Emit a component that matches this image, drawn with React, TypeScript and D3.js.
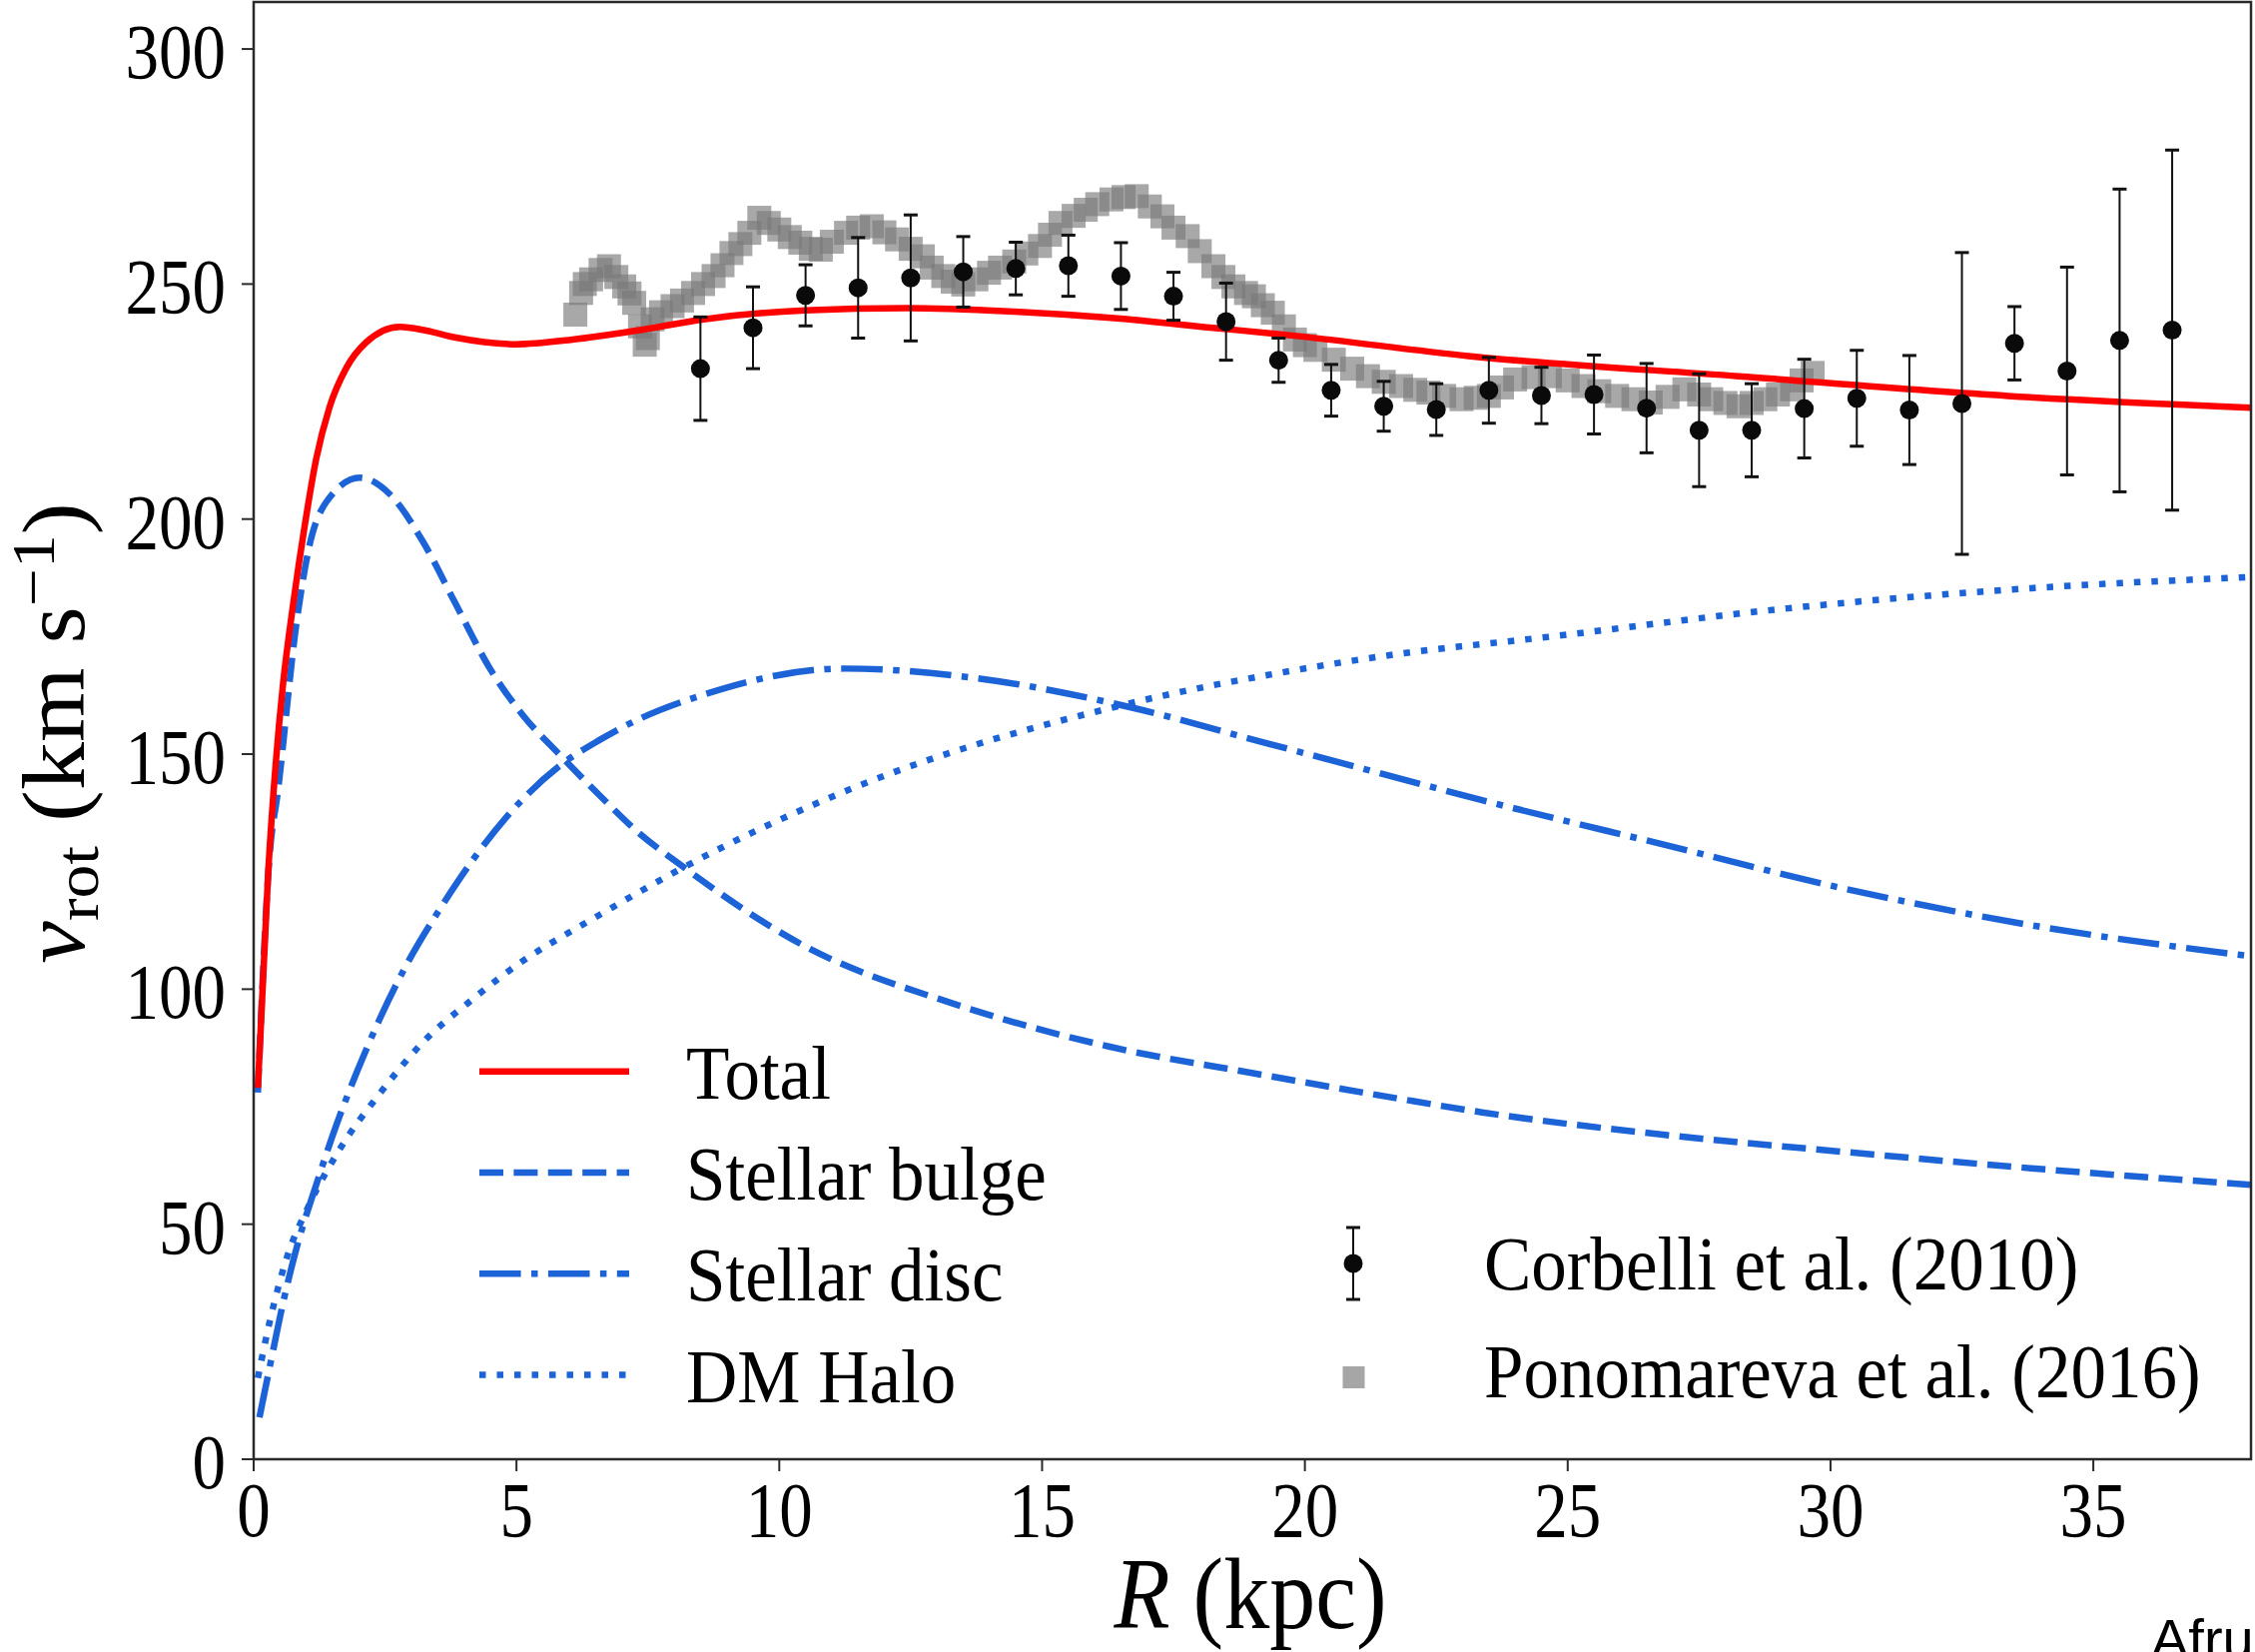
import React from "react";
import * as d3 from "d3";

const W = 2258;
const H = 1654;

// model curves, [R (kpc), v_rot (km/s)]
const totalCurve: [number, number][] = [
  [0.08, 79], [0.28, 125.6], [0.42, 148], [0.56, 165], [0.75, 181.8], [0.97, 198.5],
  [1.19, 212.8], [1.44, 223.7], [1.76, 232.1], [2.14, 237.6], [2.78, 240.9], [3.28, 240.1],
  [3.85, 238.6], [4.99, 237.2], [6.07, 238.2], [7.28, 240.1], [8.56, 242.5], [10.49, 244.4],
  [12.43, 244.9], [14.37, 244.2], [16.31, 242.8], [18.25, 240.7], [19.89, 238.9],
  [23.11, 234.7], [28.25, 230.4], [33.38, 226.2], [38, 223.7],
];

const bulgeCurve: [number, number][] = [
  [0.08, 78], [0.3, 128], [0.46, 142], [0.81, 177.5], [1.06, 194.3], [1.38, 203.6],
  [2.02, 208.8], [2.59, 205.3], [3.22, 195.2], [3.85, 181.8], [4.49, 168.3], [5.12, 158.3],
  [5.82, 149.9], [6.71, 139.8], [7.34, 133.1], [8.03, 127.2], [10.46, 109.3], [13.37, 96.7],
  [16.27, 87.8], [19.18, 81.8], [21.79, 76.7], [23.37, 73.8], [26.85, 69.0], [30.34, 65.3],
  [33.82, 61.9], [38, 58.4],
];

const discCurve: [number, number][] = [
  [0.11, 8.9], [0.34, 21.5], [0.56, 33.3], [0.84, 45.9], [1.19, 58.4], [1.57, 71], [1.95, 82],
  [2.4, 93.7], [2.9, 105], [3.54, 117], [4.17, 127.5], [4.8, 136.5], [5.82, 147.5],
  [6.58, 153], [7.34, 157.5], [8.52, 162.5], [11.23, 168.2], [13.85, 166], [16.67, 160],
  [19.18, 152.6], [21.71, 145.1], [23.37, 140.2], [26.85, 130.7], [30.34, 121.2],
  [33.82, 113.6], [38, 107],
];

const haloCurve: [number, number][] = [
  [0.08, 17.3], [0.3, 29], [0.62, 42.5], [1.06, 54.2], [1.64, 66], [2.4, 77.8], [3.22, 88.7],
  [4.17, 97.9], [5.12, 106], [6.07, 112.5], [6.58, 115.8], [7.34, 120.7], [8.03, 125],
  [11.43, 142.9], [16.67, 160.8], [19.89, 168], [21.71, 171.2], [24.53, 174.8], [29.18, 181],
  [33.82, 185.3], [37.89, 187.6],
];

// Corbelli et al. (2010)
const corbelliR = [8.5, 9.5, 10.5, 11.5, 12.5, 13.5, 14.5, 15.5, 16.5, 17.5, 18.5, 19.5, 20.5, 21.5,
  22.5, 23.5, 24.5, 25.5, 26.5, 27.5, 28.5, 29.5, 30.5, 31.5, 32.5, 33.5, 34.5, 35.5, 36.5];
const corbelliV = [232.0, 240.7, 247.6, 249.2, 251.3, 252.6, 253.3, 253.9, 251.7, 247.4, 242.0, 233.8,
  227.4, 224.0, 223.3, 227.4, 226.3, 226.5, 223.6, 218.9, 218.9, 223.5, 225.7, 223.2, 224.6, 237.4,
  231.5, 238.0, 240.2];
const corbelliErr = [11, 8.7, 6.5, 10.7, 13.4, 7.5, 5.6, 6.5, 7.1, 5.1, 8.2, 4.7, 5.5, 5.3, 5.5, 7, 6,
  8.4, 9.5, 12, 9.9, 10.5, 10.2, 11.6, 32.1, 7.8, 22.1, 32.2, 38.3];

// Ponomareva et al. (2016)
const ponoR = [6.12, 6.23, 6.3, 6.42, 6.6, 6.76, 6.9, 7.05, 7.15, 7.24, 7.35, 7.44, 7.5, 7.59, 7.75,
  7.97, 8.15, 8.36, 8.55, 8.75, 8.92, 9.09, 9.26, 9.43, 9.62, 9.8, 10.0, 10.2, 10.4, 10.6, 10.79,
  11.0, 11.27, 11.5, 11.76, 12.0, 12.24, 12.5, 12.73, 12.9, 13.12, 13.3, 13.5, 13.75, 13.99, 14.2,
  14.47, 14.7, 14.96, 15.15, 15.35, 15.6, 15.83, 16.05, 16.32, 16.55, 16.8, 17.05, 17.29, 17.5,
  17.77, 18.0, 18.26, 18.45, 18.64, 18.88, 19.03, 19.2, 19.39, 19.6, 19.81, 20.0, 20.2, 20.55,
  20.9, 21.2, 21.5, 21.83, 22.1, 22.35, 22.65, 22.98, 23.25, 23.5, 23.75, 24.0, 24.35, 24.66,
  25.0, 25.3, 25.6, 25.94, 26.25, 26.58, 26.9, 27.22, 27.5, 27.73, 28.0, 28.25, 28.5, 28.76,
  29.0, 29.27, 29.45, 29.66];
const ponoV = [243.5, 248.1, 250, 251, 253, 253.8, 251.5, 249.5, 248, 246, 241, 237.1, 238.5, 242.5,
  244, 245.3, 246.5, 248.1, 250, 251.7, 254, 256.6, 258.5, 260.9, 264.1, 263, 261.6, 260, 258.8,
  257.5, 257.3, 259, 260.9, 262, 262.3, 261, 259.5, 257.5, 255.9, 253.5, 251.7, 250.5, 249.9,
  251, 252.4, 253.5, 254.8, 256.5, 258.1, 260.5, 263, 264.5, 265.8, 267, 268, 268.5, 268.7, 266.5,
  264.4, 262, 260.2, 257, 253.8, 251.5, 249.5, 248.1, 247.4, 245.5, 243.9, 241, 238.2, 237, 236,
  233.9, 232, 230.4, 229.2, 228.3, 227.5, 226.9, 226.2, 225.5, 225.8, 226.2, 228, 229.7, 230.2,
  230.4, 229.5, 228.3, 227.2, 226.2, 225.5, 224.8, 226, 227.6, 226.5, 225.5, 224.7, 224.0, 224.7,
  225.5, 226.5, 227.6, 229.5, 231.1];

const xTicks = [0, 5, 10, 15, 20, 25, 30, 35];
const yTicks = [0, 50, 100, 150, 200, 250, 300];

const modelLegend = ["Total", "Stellar bulge", "Stellar disc", "DM Halo"];

const BLUE = "#1c63d8";
const LW = 6.5;
const SERIF = "'Liberation Serif', 'DejaVu Serif', serif";

export default function App() {
  const x = d3.scaleLinear().domain([0, 38]).range([254, 2254]);
  const y = d3.scaleLinear().domain([0, 310]).range([1461, 2]);

  const line = d3
    .line<[number, number]>()
    .x((d) => x(d[0]))
    .y((d) => y(d[1]))
    .curve(d3.curveMonotoneX);

  const styles = [
    { stroke: "#ff0000", dash: undefined as string | undefined },
    { stroke: BLUE, dash: "24 10.4" },
    { stroke: BLUE, dash: "41.6 10.4 6.5 10.4" },
    { stroke: BLUE, dash: "6.5 11" },
  ];
  const curves = [totalCurve, bulgeCurve, discCurve, haloCurve];

  const [x0, x1] = x.range();
  const [y0, y1] = y.range();
  const sq = 24;

  return (
    <div style={{ position: "absolute", left: 0, top: 0, width: W, height: H, overflow: "hidden" }}>
      <svg width={W} height={H} style={{ display: "block", background: "#fff" }}>
        <defs>
          <clipPath id="plotArea">
            <rect x={x0} y={y1} width={x1 - x0} height={y0 - y1} />
          </clipPath>
        </defs>

        <g clipPath="url(#plotArea)">
          {ponoR.map((r, i) => (
            <rect
              key={"p" + i}
              x={x(r) - sq / 2}
              y={y(ponoV[i]) - sq / 2}
              width={sq}
              height={sq}
              fill="#7a7a7a"
              fillOpacity={0.65}
            />
          ))}
          {curves
            .map((c, i) => ({ c, i }))
            .reverse()
            .map(({ c, i }) => (
              <path
                key={"c" + i}
                d={line(c) || ""}
                fill="none"
                stroke={styles[i].stroke}
                strokeWidth={LW}
                strokeDasharray={styles[i].dash}
              />
            ))}
          {corbelliR.map((r, i) => {
            const cx = x(r);
            const top = y(corbelliV[i] + corbelliErr[i]);
            const bot = y(corbelliV[i] - corbelliErr[i]);
            return (
              <g key={"cb" + i} stroke="#111" strokeWidth={2}>
                <line x1={cx} x2={cx} y1={top} y2={bot} />
                <line x1={cx - 7} x2={cx + 7} y1={top} y2={top} strokeWidth={3} />
                <line x1={cx - 7} x2={cx + 7} y1={bot} y2={bot} strokeWidth={3} />
                <circle cx={cx} cy={y(corbelliV[i])} r={9.5} fill="#0a0a0a" stroke="none" />
              </g>
            );
          })}
        </g>

        {/* frame */}
        <rect x={x0} y={y1} width={x1 - x0} height={y0 - y1} fill="none" stroke="#2a2a2a" strokeWidth={2.5} />

        {/* x axis */}
        {xTicks.map((t) => (
          <g key={"xt" + t}>
            <line x1={x(t)} x2={x(t)} y1={y0} y2={y0 + 12} stroke="#2a2a2a" strokeWidth={2} />
            <text
              transform={`translate(${x(t)},1538) scale(1,1.17)`}
              textAnchor="middle"
              fontFamily={SERIF}
              fontSize={67}
              fill="#000"
            >
              {t}
            </text>
          </g>
        ))}

        {/* y axis */}
        {yTicks.map((t) => (
          <g key={"yt" + t}>
            <line x1={x0 - 12} x2={x0} y1={y(t)} y2={y(t)} stroke="#2a2a2a" strokeWidth={2} />
            <text
              transform={`translate(226,${y(t) + 29}) scale(1,1.17)`}
              textAnchor="end"
              fontFamily={SERIF}
              fontSize={67}
              fill="#000"
            >
              {t}
            </text>
          </g>
        ))}

        {/* axis titles */}
        <text
          transform="translate(1252,1630) scale(1,1.1)"
          textAnchor="middle"
          fontFamily={SERIF}
          fontSize={92}
          fill="#000"
        >
          <tspan fontStyle="italic">R</tspan>
          <tspan> (kpc)</tspan>
        </text>
        <text
          transform="translate(84,734) rotate(-90) scale(1.09,1)"
          textAnchor="middle"
          fontFamily={SERIF}
          fontSize={88}
          fill="#000"
        >
          <tspan fontStyle="italic">v</tspan>
          <tspan fontSize={62} dy={14}>rot</tspan>
          <tspan dy={-14}> (km s</tspan>
          <tspan fontSize={62} dy={-30}>−1</tspan>
          <tspan dy={30}>)</tspan>
        </text>

        {/* model legend */}
        {modelLegend.map((label, i) => {
          const ly = 1072.7 + i * 101.3;
          return (
            <g key={"ml" + i}>
              <line
                x1={480}
                x2={630}
                y1={ly}
                y2={ly}
                stroke={styles[i].stroke}
                strokeWidth={LW}
                strokeDasharray={styles[i].dash}
              />
              <text
                transform={`translate(687,${ly + 27}) scale(1,1.07)`}
                fontFamily={SERIF}
                fontSize={71}
                fill="#000"
              >
                {label}
              </text>
            </g>
          );
        })}

        {/* data legend */}
        <g stroke="#111" strokeWidth={2}>
          <line x1={1355} x2={1355} y1={1229} y2={1301} />
          <line x1={1348} x2={1362} y1={1229} y2={1229} strokeWidth={3} />
          <line x1={1348} x2={1362} y1={1301} y2={1301} strokeWidth={3} />
          <circle cx={1355} cy={1265} r={9.5} fill="#0a0a0a" stroke="none" />
        </g>
        <text transform="translate(1486,1291) scale(1,1.07)" fontFamily={SERIF} fontSize={71} fill="#000">
          Corbelli et al. (2010)
        </text>
        <rect x={1355.5 - 11} y={1379 - 11} width={22} height={22} fill="#808080" fillOpacity={0.7} />
        <text transform="translate(1486,1399) scale(1,1.07)" fontFamily={SERIF} fontSize={71} fill="#000">
          Ponomareva et al. (2016)
        </text>

        <text x={2154} y={1660} fontFamily="'Liberation Sans', Arial, sans-serif" fontSize={56} fill="#000">
          Afrun
        </text>
      </svg>
    </div>
  );
}
